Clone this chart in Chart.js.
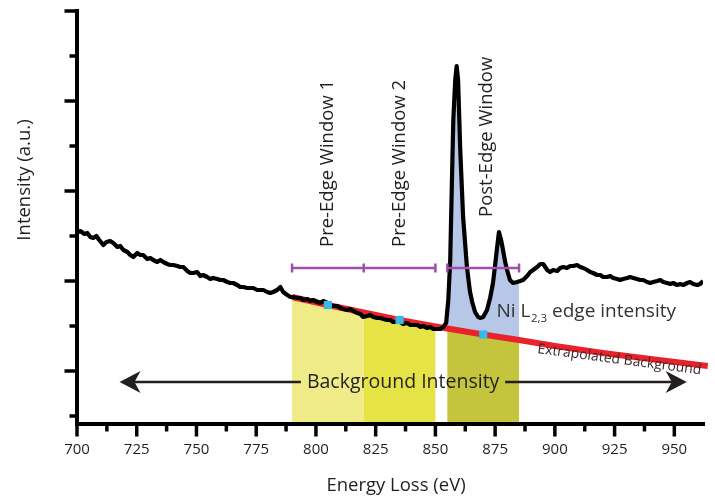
<!DOCTYPE html>
<html><head><meta charset="utf-8">
<script src="https://cdn.jsdelivr.net/npm/chart.js@4.4.1/dist/chart.umd.min.js"></script>
<style>html,body{margin:0;padding:0;background:#fff;}#wrap{width:715px;height:499px;}</style>
</head><body><div id="wrap"><canvas id="c" width="715" height="499"></canvas></div>
<script>
// ---- data (energy loss in eV, intensity in arbitrary units) ----
const energy = [
700.1,701.4,703.1,704.3,705.6,706.8,708.1,709.3,711.0,712.3,
713.9,715.2,716.9,718.1,719.4,721.1,722.3,723.6,725.2,726.5,
727.7,729.4,730.7,731.9,733.6,734.9,736.1,737.8,739.0,740.3,
742.0,743.2,744.5,746.2,747.4,748.7,750.3,751.6,752.8,754.5,
755.8,757.0,758.7,759.9,761.2,762.9,764.1,765.4,767.1,768.3,
769.6,771.3,772.5,773.8,775.4,776.7,778.0,779.6,780.9,782.1,
783.8,785.1,786.3,788.0,789.3,790.5,792.2,793.5,794.7,796.4,
797.6,798.9,800.6,801.8,803.1,804.8,806.0,807.3,809.0,810.2,
811.4,813.1,814.4,815.6,817.3,818.6,819.8,821.5,822.7,824.0,
825.6,826.9,828.2,829.8,831.1,832.3,834.0,835.3,836.5,838.2,
839.5,840.7,842.4,843.7,844.9,846.6,847.8,849.1,850.8,852.0,
853.3,854.5,855.4,856.2,856.9,857.5,858.3,858.9,859.5,860.4,
861.6,863.2,864.5,865.4,866.6,867.9,868.7,870.0,871.6,872.9,
874.1,875.0,875.8,876.6,877.5,878.3,879.2,880.0,881.2,882.5,
884.2,885.5,886.7,888.4,889.7,890.9,892.6,893.9,895.1,896.8,
898.0,899.3,901.0,902.2,903.5,905.1,906.4,907.7,909.3,910.6,
911.9,913.5,914.8,916.0,917.7,919.0,920.2,921.9,923.2,924.4,
926.1,927.3,928.6,930.3,931.5,932.8,934.4,935.7,937.0,938.6,
939.9,941.2,942.8,944.1,945.4,947.0,948.3,949.5,951.2,952.5,
953.7,955.4,956.6,957.9,959.6,960.8,962.0];
const intensity = [
184,185,182,183,179,178,180,176,171,174,
175,173,169,170,166,164,161,159,163,161,
161,157,158,156,154,156,154,152,151,151,
150,149,149,145,143,143,144,140,141,139,
137,138,137,136,136,134,133,133,131,129,
129,128,128,128,126,126,126,124,123,124,
126,129,124,121,119,119,118,118,116,117,
115,116,114,113,115,113,111,110,110,108,
107,106,107,105,103,102,99,100,101,99,
98,98,97,96,96,94,94,94,92,93,
91,91,91,89,90,88,89,87,87,87,
89,93,116,156,233,296,336,350,336,266,
199,149,124,114,104,99,98,99,106,118,
133,151,168,184,176,166,154,146,136,133,
134,135,136,140,144,146,149,152,152,146,
144,146,145,148,149,148,150,150,151,149,
148,146,144,143,141,141,139,139,140,138,
137,136,137,138,139,138,137,136,136,134,
133,134,135,136,134,133,132,133,131,132,
131,133,134,132,131,132,135];
// extrapolated power-law background
const bgEnergy    = [790, 805, 820, 835, 850, 870, 885, 900, 920, 940, 964];
const bgIntensity = [119, 111, 103.5, 96, 89.5, 81.5, 76, 70, 63, 57, 50];
// window centres (marked on background)
const centreEnergy    = [805, 835, 870];
const centreIntensity = [111, 96, 81.5];
// windows
const preWindows = [[790, 820], [820, 850]];
const postWindow = [855, 885];
// axis ticks
const xMajorTicks = [700, 725, 750, 775, 800, 825, 850, 875, 900, 925, 950];
const xMinorTicks = [712.5, 737.5, 762.5, 787.5, 812.5, 837.5, 862.5, 887.5, 912.5, 937.5];
const yMajorTicks = [45, 135, 225, 315, 405];
const yMinorTicks = [0, 90, 180, 270, 360];

const INK = '#231f20';
const FONT = "'Open Sans', 'DejaVu Sans', sans-serif";

const overlay = {
  id: 'overlay',
  beforeDatasetsDraw(chart) {
    const {ctx, chartArea: a, scales: {x, y}} = chart;
    const spec = energy.map((e, i) => [x.getPixelForValue(e), y.getPixelForValue(intensity[i])]);
    const bg = bgEnergy.map((e, i) => [x.getPixelForValue(e), y.getPixelForValue(bgIntensity[i])]);
    const clipX = (e0, e1) => {
      const p0 = x.getPixelForValue(e0), p1 = x.getPixelForValue(e1);
      ctx.beginPath(); ctx.rect(p0, a.top, p1 - p0, a.bottom - a.top); ctx.clip();
    };
    const toBottom = pts => {
      ctx.beginPath(); ctx.moveTo(pts[0][0], a.bottom);
      pts.forEach(p => ctx.lineTo(p[0], p[1]));
      ctx.lineTo(pts[pts.length - 1][0], a.bottom); ctx.closePath();
    };
    const preColors = ['#efec88', '#e5e345'];
    preWindows.forEach((w, i) => {
      ctx.save(); clipX(w[0], w[1]); toBottom(spec); ctx.fillStyle = preColors[i]; ctx.fill(); ctx.restore();
    });
    ctx.save(); clipX(postWindow[0], postWindow[1]);
    toBottom(bg); ctx.fillStyle = '#c4c53c'; ctx.fill();
    ctx.beginPath();
    spec.forEach((p, i) => i ? ctx.lineTo(p[0], p[1]) : ctx.moveTo(p[0], p[1]));
    for (let i = bg.length - 1; i >= 0; i--) ctx.lineTo(bg[i][0], bg[i][1]);
    ctx.closePath(); ctx.fillStyle = '#b6c7e7'; ctx.fill();
    ctx.restore();
  },
  afterDatasetsDraw(chart) {
    const {ctx, chartArea: a, scales: {x, y}} = chart;
    const X = v => x.getPixelForValue(v), Y = v => y.getPixelForValue(v);
    // purple window bars
    ctx.save();
    ctx.strokeStyle = '#9c50aa'; ctx.lineWidth = 2.5; ctx.lineCap = 'butt';
    const barY = Y(148);
    [[790, 820, 850], [855, 885]].forEach(bar => {
      ctx.beginPath(); ctx.moveTo(X(bar[0]), barY); ctx.lineTo(X(bar[bar.length - 1]), barY); ctx.stroke();
      bar.forEach(e => { ctx.beginPath(); ctx.moveTo(X(e), barY - 4.5); ctx.lineTo(X(e), barY + 4.5); ctx.stroke(); });
    });
    ctx.restore();
    // rotated window labels
    ctx.save();
    ctx.fillStyle = INK; ctx.font = '18.5px ' + FONT;
    [['Pre-Edge Window 1', 805, 169], ['Pre-Edge Window 2', 835, 169], ['Post-Edge Window', 871.3, 199]].forEach(l => {
      ctx.save(); ctx.translate(X(l[1]), Y(l[2])); ctx.rotate(-Math.PI / 2);
      ctx.textAlign = 'left'; ctx.textBaseline = 'middle'; ctx.fillText(l[0], 0, 0); ctx.restore();
    });
    ctx.restore();
    // Ni L2,3 edge intensity
    ctx.save();
    ctx.fillStyle = '#333'; ctx.textBaseline = 'alphabetic'; ctx.textAlign = 'left';
    let tx = X(875.6); const ty = Y(99.3);
    ctx.font = '19px ' + FONT; ctx.fillText('Ni L', tx, ty); tx += ctx.measureText('Ni L').width + 0.5;
    ctx.font = '11.5px ' + FONT; ctx.fillText('2,3', tx, ty + 5); tx += ctx.measureText('2,3').width;
    ctx.font = '19px ' + FONT; ctx.fillText(' edge intensity', tx, ty);
    ctx.restore();
    // Extrapolated Background (along the background line)
    ctx.save();
    const p0 = [X(bgEnergy[7]), Y(bgIntensity[7])], p1 = [X(bgEnergy[10]), Y(bgIntensity[10])];
    const ang = Math.atan2(p1[1] - p0[1], p1[0] - p0[0]);
    ctx.translate(X(892.5), Y(63)); ctx.rotate(ang);
    ctx.font = '14px ' + FONT; ctx.fillStyle = '#3a2a2a'; ctx.textBaseline = 'alphabetic';
    ctx.fillText('Extrapolated Background', 0, 0);
    ctx.restore();
    // Background Intensity + arrows
    ctx.save();
    const ay = Y(34);
    ctx.fillStyle = INK; ctx.font = '19.5px ' + FONT; ctx.textAlign = 'center'; ctx.textBaseline = 'middle';
    ctx.fillText('Background Intensity', X(836.5), ay);
    ctx.strokeStyle = INK; ctx.lineWidth = 2.5;
    const arrow = (from, tip) => {
      const xf = X(from), xt = X(tip), d = Math.sign(xf - xt);
      ctx.beginPath(); ctx.moveTo(xf, ay); ctx.lineTo(xt + d * 10, ay); ctx.stroke();
      ctx.beginPath(); ctx.moveTo(xt, ay); ctx.lineTo(xt + d * 21, ay - 11); ctx.lineTo(xt + d * 15, ay);
      ctx.lineTo(xt + d * 21, ay + 11); ctx.closePath(); ctx.fill();
    };
    arrow(793.7, 717.8); arrow(879.2, 955.2);
    ctx.restore();
  },
  afterDraw(chart) {
    const {ctx, chartArea: a, scales: {x, y}} = chart;
    ctx.save();
    ctx.strokeStyle = '#000';
    // axes
    ctx.lineWidth = 4; ctx.lineCap = 'square';
    ctx.beginPath(); ctx.moveTo(a.left, a.top); ctx.lineTo(a.left, a.bottom); ctx.lineTo(a.right, a.bottom); ctx.stroke();
    ctx.lineCap = 'butt'; ctx.lineWidth = 3.5;
    xMajorTicks.forEach(v => { const p = x.getPixelForValue(v); ctx.beginPath(); ctx.moveTo(p, a.bottom); ctx.lineTo(p, a.bottom + 12.5); ctx.stroke(); });
    xMinorTicks.forEach(v => { const p = x.getPixelForValue(v); ctx.beginPath(); ctx.moveTo(p, a.bottom); ctx.lineTo(p, a.bottom + 7.5); ctx.stroke(); });
    yMajorTicks.forEach(v => { const p = y.getPixelForValue(v); ctx.beginPath(); ctx.moveTo(a.left, p); ctx.lineTo(a.left - 12.5, p); ctx.stroke(); });
    yMinorTicks.forEach(v => { const p = y.getPixelForValue(v); ctx.beginPath(); ctx.moveTo(a.left, p); ctx.lineTo(a.left - 7.5, p); ctx.stroke(); });
    // axis titles
    ctx.fillStyle = INK; ctx.font = '18.5px ' + FONT; ctx.textAlign = 'center'; ctx.textBaseline = 'middle';
    ctx.fillText('Energy Loss (eV)', 396, 486);
    ctx.translate(25, 180); ctx.rotate(-Math.PI / 2); ctx.fillText('Intensity (a.u.)', 0, 0);
    ctx.restore();
  }
};

new Chart(document.getElementById('c'), {
  type: 'line',
  data: {
    datasets: [
      { label: 'Background', data: bgEnergy.map((e, i) => ({x: e, y: bgIntensity[i]})),
        borderColor: '#e8212b', borderWidth: 6, pointRadius: 0, tension: 0, order: 3, clip: 8 },
      { label: 'Spectrum', data: energy.map((e, i) => ({x: e, y: intensity[i]})),
        borderColor: '#000', borderWidth: 4.2, pointRadius: 0, tension: 0, borderJoinStyle: 'round', order: 2 },
      { label: 'Window centre', type: 'scatter', data: centreEnergy.map((e, i) => ({x: e, y: centreIntensity[i]})),
        pointStyle: 'rect', pointRadius: 5.8, backgroundColor: '#38b9e8', borderWidth: 0, order: 1 }
    ]
  },
  options: {
    responsive: false, animation: false, devicePixelRatio: 1,
    layout: {padding: {top: 11, right: 12, left: 0, bottom: 0}},
    plugins: {legend: {display: false}, tooltip: {enabled: false}},
    scales: {
      x: {
        type: 'linear', min: 700, max: 962,
        afterBuildTicks: s => { s.ticks = xMajorTicks.map(v => ({value: v})); },
        afterFit: s => { s.height = 75; },
        grid: {display: false, drawTicks: false}, border: {display: false},
        ticks: {padding: 17, color: INK, font: {family: FONT, size: 15}, autoSkip: false, maxRotation: 0, callback: v => String(v)}
      },
      y: {
        type: 'linear', min: -8, max: 405,
        afterFit: s => { s.width = 77; },
        grid: {display: false, drawTicks: false}, border: {display: false},
        ticks: {display: false}
      }
    }
  },
  plugins: [overlay]
});
</script></body></html>
